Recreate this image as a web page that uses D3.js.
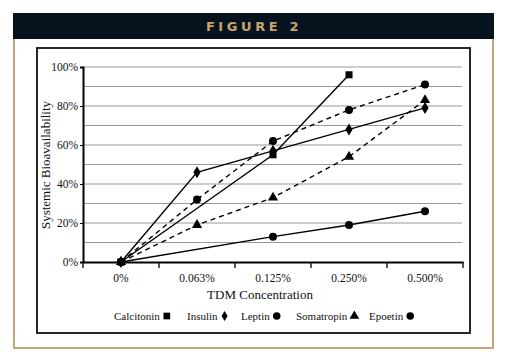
<!DOCTYPE html>
<html><head><meta charset="utf-8">
<script src="https://cdn.jsdelivr.net/npm/d3@7"></script>
<style>body{margin:0;background:#fff}svg{display:block}</style>
</head><body>
<svg id="c" width="510" height="356"></svg>
<script>
const categories = ["0%", "0.063%", "0.125%", "0.250%", "0.500%"];
const calcitonin = [0, null, 55, 96, null];
const insulin    = [0, 46, 57, 68, 79];
const leptin     = [0, 32, 62, 78, 91];
const somatropin = [0, 19, 33, 54, 83];
const epoetin    = [0, null, 13, 19, 26];
const yTicks = [0, 20, 40, 60, 80, 100];
const gridTicks = [10, 20, 30, 40, 50, 60, 70, 80, 90, 100];

const SERIF = "'Liberation Serif', 'DejaVu Serif', serif";

const series = [
  {name: "Calcitonin", values: calcitonin, dash: null, sym: d3.symbolSquare, size: 50},
  {name: "Insulin", values: insulin, dash: null, sym: "diamond", size: 0},
  {name: "Leptin", values: leptin, dash: "5,4", sym: d3.symbolCircle, size: 50},
  {name: "Somatropin", values: somatropin, dash: "5,4", sym: d3.symbolTriangle, size: 45},
  {name: "Epoetin", values: epoetin, dash: null, sym: d3.symbolCircle, size: 50}
];

const svg = d3.select("#c");
const tan = "#c4a57a";

// frame
svg.append("rect").attr("x", 13).attr("y", 13).attr("width", 481).attr("height", 26).attr("fill", "#06131f");
svg.append("text").attr("x", 254).attr("y", 31).attr("text-anchor", "middle")
  .attr("font-family", "'DejaVu Sans', sans-serif").attr("font-weight", "bold").attr("font-size", "13px")
  .attr("letter-spacing", "3.6px").attr("fill", "#c9a46c").text("FIGURE 2");
svg.append("path").attr("d", "M14,39V348H493V39").attr("fill", "none").attr("stroke", tan).attr("stroke-width", 2);
svg.append("rect").attr("x", 37).attr("y", 48).attr("width", 433).attr("height", 285)
  .attr("fill", "#fff").attr("stroke", "#111").attr("stroke-width", 1.8);

const x = d3.scaleBand().domain(categories).range([83, 463]);
const y = d3.scaleLinear().domain([0, 100]).range([262, 67]);

// grid
svg.append("g").selectAll("line").data(gridTicks).join("line")
  .attr("x1", 83).attr("x2", 462).attr("y1", d => y(d)).attr("y2", d => y(d))
  .attr("stroke", "#9a9a9a").attr("stroke-width", 1.2);

// y axis
const ya = svg.append("g").attr("transform", "translate(83,0)")
  .call(d3.axisLeft(y).tickValues(yTicks).tickFormat(d => d + "%").tickSize(3).tickPadding(2));
ya.attr("font-family", SERIF);
ya.select(".domain").attr("stroke", "#000").attr("stroke-width", 2);
ya.selectAll("text").attr("font-family", SERIF).attr("font-size", "11.5px").attr("fill", "#111");

// x axis
const xa = svg.append("g").attr("transform", "translate(0,262)")
  .call(d3.axisBottom(x).tickSize(0).tickPadding(12));
xa.attr("font-family", SERIF);
xa.select(".domain").attr("stroke", "#000").attr("stroke-width", 2);
xa.selectAll("text").attr("font-family", SERIF).attr("font-size", "11.5px").attr("fill", "#111");
svg.append("g").selectAll("line").data(categories.concat(["end"])).join("line")
  .attr("x1", (d, i) => i < categories.length ? x(d) : x.range()[1])
  .attr("x2", (d, i) => i < categories.length ? x(d) : x.range()[1])
  .attr("y1", 262).attr("y2", 268).attr("stroke", "#000").attr("stroke-width", 1.3);

// axis titles
svg.append("text").attr("transform", "translate(50,165) rotate(-90)").attr("text-anchor", "middle")
  .attr("font-family", SERIF).attr("font-size", "13px").attr("fill", "#111").text("Systemic Bioavailability");
svg.append("text").attr("x", 260).attr("y", 299).attr("text-anchor", "middle")
  .attr("font-family", SERIF).attr("font-size", "13px").attr("fill", "#111").text("TDM Concentration");

// lines
const cx = c => x(c) + x.bandwidth() / 2;
const line = d3.line().defined(d => d.v != null).x(d => cx(d.c)).y(d => y(d.v));
function symPath(s) {
  if (s.sym === "diamond") return "M0,-6L3.6,0L0,6L-3.6,0Z";
  return d3.symbol().type(s.sym).size(s.size)();
}
series.forEach(s => {
  const pts = categories.map((c, i) => ({c, v: s.values[i]})).filter(d => d.v != null);
  svg.append("path").datum(pts).attr("d", line).attr("fill", "none")
    .attr("stroke", "#000").attr("stroke-width", 1.4).attr("stroke-dasharray", s.dash);
});
series.forEach(s => {
  const pts = categories.map((c, i) => ({c, v: s.values[i]})).filter(d => d.v != null);
  svg.append("g").selectAll("path").data(pts).join("path")
    .attr("transform", d => `translate(${cx(d.c)},${y(d.v)})`)
    .attr("d", symPath(s)).attr("fill", "#000");
});

// legend
const legendX = [114, 187, 241, 296, 369];
const lg = svg.append("g");
series.forEach((s, i) => {
  const t = lg.append("text").attr("x", legendX[i]).attr("y", 320)
    .attr("font-family", SERIF).attr("font-size", "11px").attr("fill", "#111").text(s.name);
  const w = t.node().getComputedTextLength();
  lg.append("path").attr("transform", `translate(${legendX[i] + w + 7},316)`)
    .attr("d", s.sym === "diamond" ? "M0,-5L3,0L0,5L-3,0Z" : d3.symbol().type(s.sym).size(s.size * 0.9)())
    .attr("fill", "#000");
});
</script>
</body></html>
